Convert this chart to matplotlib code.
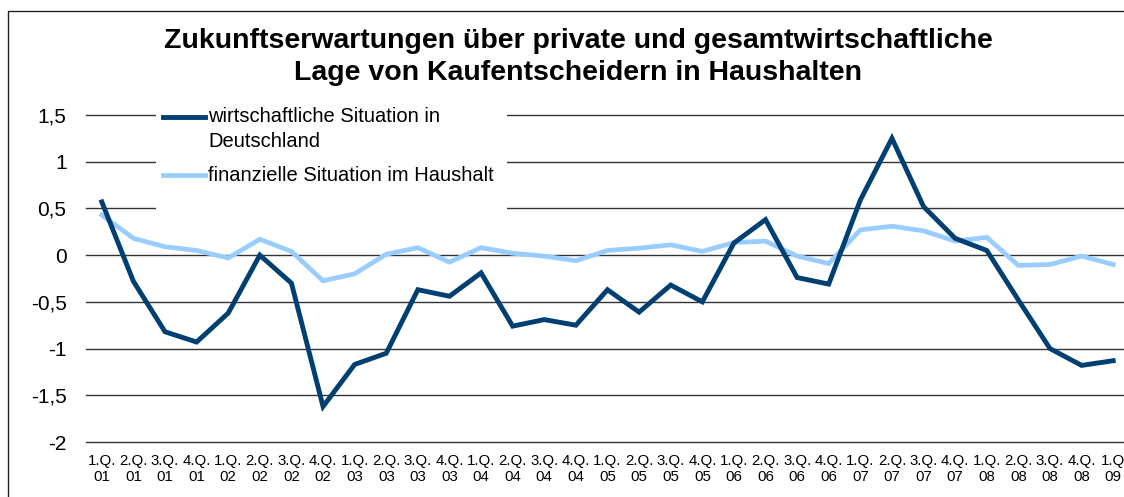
import matplotlib.pyplot as plt
from matplotlib.patches import Rectangle
from matplotlib.lines import Line2D

plt.rcParams['font.family'] = ['Liberation Sans', 'DejaVu Sans']

# Quartale 1.Q.01 ... 1.Q.09 (letzte Beschriftung am Rand abgeschnitten)
quartale = [f"{q}.Q.\n{j:02d}" for j in range(1, 9) for q in range(1, 5)] + ["1.Q\n09"]

wirtschaft = [0.57, -0.28, -0.82, -0.93, -0.62, 0.00, -0.30, -1.62,
              -1.17, -1.05, -0.37, -0.44, -0.19, -0.76, -0.69, -0.75,
              -0.37, -0.61, -0.32, -0.50, 0.13, 0.38, -0.24, -0.31,
              0.59, 1.25, 0.52, 0.18, 0.05, -0.48, -1.00, -1.18, -1.13]
finanziell = [0.43, 0.18, 0.09, 0.05, -0.03, 0.17, 0.04, -0.275,
              -0.20, 0.01, 0.08, -0.075, 0.08, 0.02, -0.01, -0.06,
              0.05, 0.075, 0.11, 0.04, 0.135, 0.15, -0.01, -0.09,
              0.27, 0.31, 0.26, 0.15, 0.19, -0.11, -0.10, -0.01, -0.10]

y_ticks = [1.5, 1, 0.5, 0, -0.5, -1, -1.5, -2]
y_labels = ["1,5", "1", "0,5", "0", "-0,5", "-1", "-1,5", "-2"]

dunkel = '#003F72'
hell = '#99CCFF'

W, H = 1124, 497
fig = plt.figure(figsize=(W / 100, H / 100), dpi=100)

# Rahmen um das Diagramm
fig.patches.append(Rectangle((8 / W, -0.1), 1.2, 1 - 11 / H + 0.1, transform=fig.transFigure,
                             fill=False, edgecolor='#222222', linewidth=1.0))

ax = fig.add_axes([86 / W, 1 - 442 / H, 1043 / W, 327 / H])
x = list(range(len(quartale)))
ax.plot(x, finanziell, color=hell, linewidth=3.4, zorder=3, solid_joinstyle='miter')
ax.plot(x, wirtschaft, color=dunkel, linewidth=3.5, zorder=4, solid_joinstyle='miter')

ax.set_xlim(-0.5, len(quartale) - 0.5)
ax.set_ylim(-2, 1.5)
ax.set_yticks(y_ticks)
ax.set_yticklabels(y_labels, fontsize=15)
ax.set_xticks(x)
ax.set_xticklabels(quartale, fontsize=10.8, linespacing=1.15)
ax.tick_params(axis='y', length=0, pad=14)
ax.tick_params(axis='x', length=0, pad=9)
ax.set_axisbelow(True)
ax.grid(axis='y', color='#333333', linewidth=1.0)
for gl in ax.get_ygridlines():
    gl.set_clip_on(False)
for s in ax.spines.values():
    s.set_visible(False)

# Legende (im Diagramm, weiß hinterlegt)
ax.add_patch(Rectangle((0.067, 0.703), 0.337, 0.34, transform=ax.transAxes,
                       facecolor='white', edgecolor='none', zorder=2, clip_on=False))
ax.add_line(Line2D([0.0738, 0.1141], [0.994, 0.994], transform=ax.transAxes,
                   color=dunkel, linewidth=3.5, zorder=5, clip_on=False))
ax.add_line(Line2D([0.0738, 0.1141], [0.8165, 0.8165], transform=ax.transAxes,
                   color=hell, linewidth=3.4, zorder=5, clip_on=False))
ax.text(0.117, 0.994, "wirtschaftliche Situation in", transform=ax.transAxes,
        fontsize=14.5, va='center', ha='left', zorder=5)
ax.text(0.117, 0.918, "Deutschland", transform=ax.transAxes,
        fontsize=14.5, va='center', ha='left', zorder=5)
ax.text(0.117, 0.8165, "finanzielle Situation im Haushalt", transform=ax.transAxes,
        fontsize=14.5, va='center', ha='left', zorder=5)

# Titel
fig.text(578 / W, 1 - 48 / H, "Zukunftserwartungen über private und gesamtwirtschaftliche",
         ha='center', va='baseline', fontsize=20.5, fontweight='bold')
fig.text(578 / W, 1 - 80 / H, "Lage von Kaufentscheidern in Haushalten",
         ha='center', va='baseline', fontsize=20.5, fontweight='bold')

fig.savefig('out.png', dpi=100)
